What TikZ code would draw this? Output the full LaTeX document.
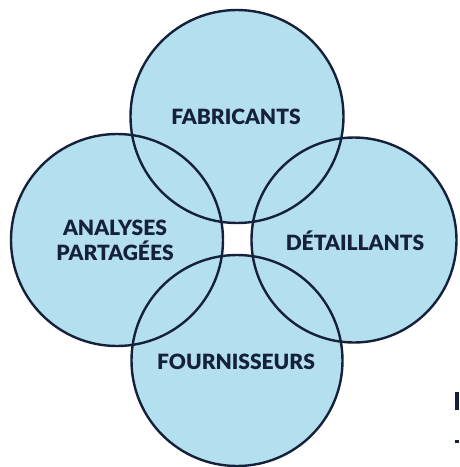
\documentclass[tikz,border=0pt]{standalone}
\usepackage{fontspec}
\setmainfont{Lato}[BoldFont={Lato Black}]
\definecolor{fillblue}{HTML}{B3DFEF}
\definecolor{navy}{HTML}{15213B}
\begin{document}
\begin{tikzpicture}[x=1pt,y=-1pt,
  circ/.style={circle,fill=none,draw=navy,line width=2.4pt,inner sep=0pt},
  lbl/.style={text=navy,font=\fontsize{21}{25}\selectfont\bfseries,align=center}]
\useasboundingbox (0,0) rectangle (459,467);
\begin{scope}
\clip (0,0) rectangle (459,467);
% fills
\fill[fillblue] (237,116.5) circle (106.5);
\fill[fillblue] (117,240) circle (106);
\fill[fillblue] (354,240) circle (102.5);
\fill[fillblue] (237,360.5) circle (105.5);
% outlines
\node[circ,minimum size=213pt] (fab) at (237,116.5) {};
\node[circ,minimum size=212pt] (ana) at (117,240) {};
\node[circ,minimum size=205pt] (det) at (354,240) {};
\node[circ,minimum size=211pt] (fou) at (237,360.5) {};
\fill[navy] (455,392) rectangle (459,410);
\fill[navy] (455,440) rectangle (459,443);
\end{scope}
\node[lbl] (tfab) at (236,117) {FABRICANTS};
\node[lbl] (tana) at (115,240.5) {ANALYSES\\PARTAGÉES};
\node[lbl] (tdet) at (355,241) {DÉTAILLANTS};
\node[lbl] (tfou) at (236,362) {FOURNISSEURS};
\end{tikzpicture}
\end{document}
